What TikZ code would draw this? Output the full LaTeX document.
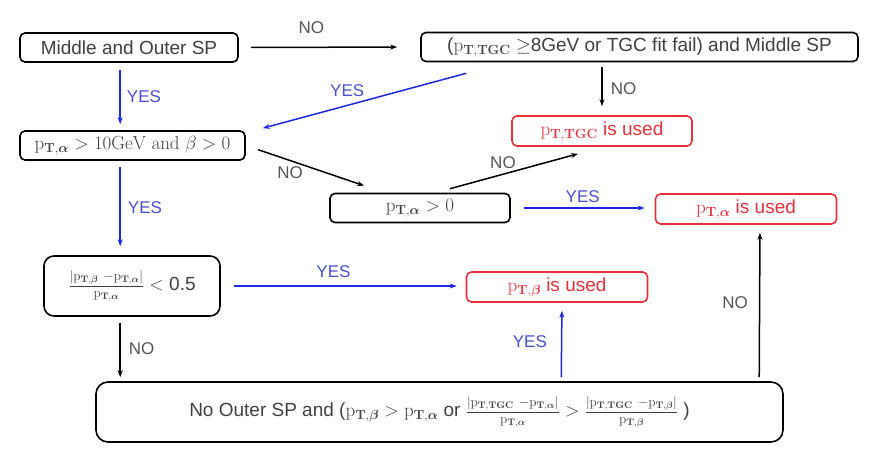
\RequirePackage{fix-cm}
\documentclass[tikz,border=0pt]{standalone}
\usepackage[no-math]{fontspec}
\setmainfont{Liberation Sans}
\usepackage{amsmath}
\usetikzlibrary{arrows.meta}
\definecolor{txtgray}{RGB}{64,64,64}
\definecolor{nogray}{RGB}{85,85,85}
\definecolor{usedred}{RGB}{232,48,58}
\definecolor{yesblue}{RGB}{30,40,228}
\definecolor{yestxt}{RGB}{72,80,212}
\newcommand{\pT}[1]{\mathrm{p}_{\mathbf{T},\boldsymbol{#1}}}

\begin{document}
\begin{tikzpicture}[x=1pt, y=-1pt, >={Stealth[length=7pt,width=5pt]},
  every node/.style={font=\fontsize{19}{22}\selectfont, text=txtgray},
  cond/.style={draw=black, line width=1.6pt, rounded corners=5pt, minimum height=29pt, inner sep=0pt},
  used/.style={draw=usedred, text=usedred, line width=1.6pt, rounded corners=5pt, minimum height=30pt, inner sep=0pt},
  yes/.style={draw=yesblue, line width=1.5pt, ->},
  no/.style={draw=black, line width=1.5pt, ->},
  ylbl/.style={text=yestxt, inner sep=0pt, font=\fontsize{17}{20}\selectfont},
  nlbl/.style={text=nogray, inner sep=0pt, font=\fontsize{17}{20}\selectfont}]
  \useasboundingbox (0,0) rectangle (878,465);
  % conditions
  \node (MO) [cond, minimum width=218pt] at (129,47.5) {Middle and Outer SP};
  \node (TGC) [cond, minimum width=437pt] at (639.5,47) {($\pT{\mathrm{TGC}}$ $\geq$8GeV or TGC fit fail) and Middle SP};
  \node (a10) [cond, minimum width=225pt] at (132.5,145.5) {$\pT\alpha > 10\mathrm{GeV}\ \mathrm{and}\ \beta > 0$};
  \node (a0) [cond, minimum width=180pt] at (420,208) {$\pT\alpha > 0$};
  \node (ratio) [cond, rounded corners=10pt, minimum width=176pt, minimum height=60pt] at (132,286)
    {$\frac{|\pT\beta\ -\pT\alpha|}{\pT\alpha}<$ 0.5};
  \node (noOut) [cond, rounded corners=12pt, minimum width=687pt, minimum height=60pt] at (439.5,412)
    {No Outer SP and ($\pT\beta > \pT\alpha$ or $\frac{|\pT{\mathrm{TGC}}\ -\pT\alpha|}{\pT\alpha} > \frac{|\pT{\mathrm{TGC}}\ -\pT\beta|}{\pT\beta}$ )};
  % results
  \node (tgc) [used, minimum width=180pt] at (602,131) {$\pT{\mathrm{TGC}}$ is used};
  \node (alpha) [used, minimum width=181pt] at (746,209) {$\pT\alpha$ is used};
  \node (beta) [used, minimum width=181pt] at (557,287) {$\pT\beta$ is used};
  % arrows
  \draw [no, shorten <=12pt, shorten >=23pt] (MO.east) to node [nlbl, above=13pt, pos=0.4] {NO} (TGC.west);
  \draw [no, shorten <=5pt, shorten >=9pt] (TGC.south -| tgc.north) to node [nlbl, right=8pt] {NO} (tgc.north);
  \draw [yes, shorten <=7pt, shorten >=6pt] ([xshift=101pt]MO.south west) to node [ylbl, right=6pt] {YES} ([xshift=101pt]a10.north west);
  \draw [yes] ([xshift=46pt,yshift=-11pt]TGC.south west) to node [ylbl, above=8pt, pos=0.585] {YES} ([xshift=17pt,yshift=2pt]a10.north east);
  \draw [no, shorten <=13pt] (a10.east) to node [nlbl, below=5pt, pos=0.375] {NO} ([xshift=35pt,yshift=7pt]a0.north west);
  \draw [no] ([xshift=30pt,yshift=4pt]a0.north) to node [nlbl, above=5pt, pos=0.414] {NO} ([xshift=-24pt,yshift=-7pt]tgc.south);
  \draw [yes, shorten <=13pt, shorten >=10pt] (a0.east) to node [ylbl, above=5pt] {YES} (a0.east -| alpha.west);
  \draw [yes, shorten <=6pt, shorten >=9pt] ([xshift=101pt]a10.south west) to node [ylbl, right=7pt] {YES} ([xshift=77pt]ratio.north west);
  \draw [yes, shorten <=13pt, shorten >=9pt] (ratio.east) to node [ylbl, above=8pt, pos=0.46] {YES} (ratio.east -| beta.west);
  \draw [no, shorten <=6pt, shorten >=4pt] ([xshift=77pt]ratio.south west) to node [nlbl, right=8pt] {NO} ([xshift=25pt]noOut.north west);
  \draw [yes, shorten <=4pt, shorten >=8pt] ([xshift=466pt]noOut.north west) to node [ylbl, left=14pt] {YES} ([xshift=5pt]beta.south);
  \draw [no, shorten <=4pt, shorten >=8pt] ([xshift=664pt]noOut.north west) to node [nlbl, left=11pt] {NO} ([xshift=14pt]alpha.south);
\end{tikzpicture}
\end{document}
